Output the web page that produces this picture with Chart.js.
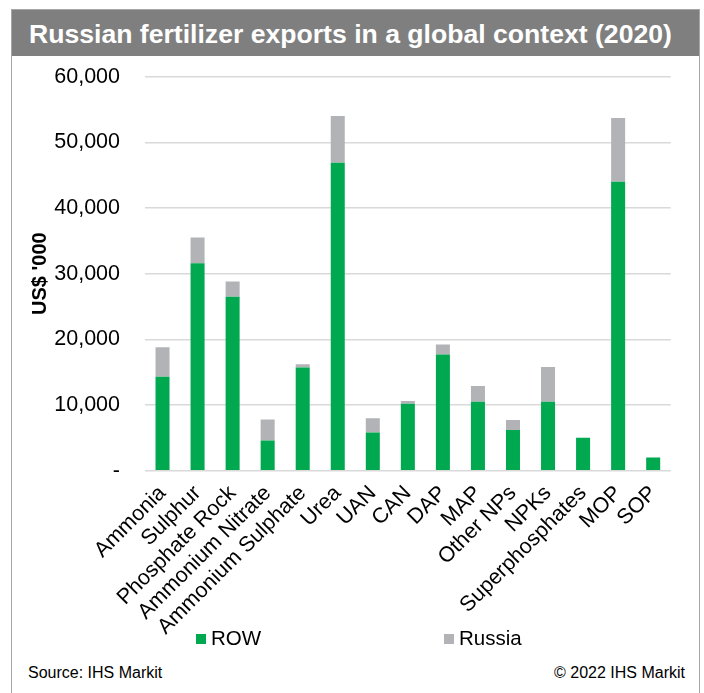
<!DOCTYPE html>
<html>
<head>
<meta charset="utf-8">
<script src="https://cdn.jsdelivr.net/npm/chart.js@4/dist/chart.umd.min.js"></script>
<style>
  body { margin: 0; background: #fff; font-family: "Liberation Sans", Arial, sans-serif; }
  #frame { position: absolute; left: 11px; top: 9px; width: 687px; height: 700px; border: 1.5px solid #a6a6a6; }
  #title { position: absolute; left: 0; top: 0; width: 687px; height: 46px; background: #7f7f7f;
           color: #fff; font-weight: bold; font-size: 26.6px; line-height: 48px; padding-left: 17px; box-sizing: border-box; white-space: nowrap; }
  #wrap { position: absolute; left: 12px; top: 55px; width: 686px; height: 600px; }
  .leg { position: absolute; top: 626px; font-size: 20.5px; line-height: 24px; color: #000; }
  .leg i { display: inline-block; width: 10px; height: 10px; margin-right: 5px; vertical-align: 1px; }
  .foot { position: absolute; top: 663px; font-size: 16px; line-height: 20px; color: #000; }
</style>
</head>
<body>
<div id="frame"><div id="title">Russian fertilizer exports in a global context (2020)</div></div>
<div id="wrap"><canvas id="chart" width="686" height="600"></canvas></div>
<div class="leg" style="left:196px"><i style="background:#00a94f"></i>ROW</div>
<div class="leg" style="left:444px"><i style="background:#b1b3b6"></i>Russia</div>
<div class="foot" style="left:28px">Source: IHS Markit</div>
<div class="foot" style="right:19px">© 2022 IHS Markit</div>
<script>
// US$ '000
const categories = ['Ammonia', 'Sulphur', 'Phosphate Rock', 'Ammonium Nitrate', 'Ammonium Sulphate',
  'Urea', 'UAN', 'CAN', 'DAP', 'MAP', 'Other NPs', 'NPKs', 'Superphosphates', 'MOP', 'SOP'];
const rowValues    = [14300, 31600, 26500, 4600, 15700, 46900, 5800, 10200, 17700, 10500, 6200, 10500, 5000, 44000, 2000];
const russiaValues = [4500, 3900, 2300, 3200, 500, 7100, 2200, 400, 1500, 2400, 1500, 5300, 0, 9700, 0];
const yTicks = [0, 10000, 20000, 30000, 40000, 50000, 60000];

const font = '"Liberation Sans", Arial, sans-serif';

let chart = new Chart(document.getElementById('chart'), {
  type: 'bar',
  data: {
    labels: categories,
    datasets: [
      { label: 'ROW', data: rowValues, backgroundColor: '#00a94f' },
      { label: 'Russia', data: russiaValues, backgroundColor: '#b1b3b6' }
    ]
  },
  options: {
    responsive: false,
    animation: false,
    barPercentage: 0.4,
    categoryPercentage: 1.0,
    layout: { padding: { top: 21.6, right: 27.3, bottom: 0, left: 0 } },
    plugins: { legend: { display: false }, tooltip: { enabled: false } },
    scales: {
      x: {
        stacked: true,
        grid: { display: false },
        border: { display: false },
        ticks: { color: '#000', font: { family: font, size: 21.5 }, minRotation: 45, maxRotation: 45, padding: 2, autoSkip: false },
        afterFit: (s) => { s.height = 184.3; }
      },
      y: {
        stacked: true,
        min: 0,
        max: 60000,
        afterBuildTicks: (s) => { s.ticks = yTicks.map(v => ({ value: v })); },
        // transparent tick marks push the labels away from the plot
        grid: { color: '#d9d9d9', lineWidth: 1.5, drawTicks: true, tickLength: 25, tickColor: 'rgba(0,0,0,0)' },
        border: { display: false },
        ticks: {
          color: '#000', padding: 0, font: { family: font, size: 21.5 },
          callback: (v) => v === 0 ? '-' : v.toLocaleString('en-US')
        },
        title: { display: true, text: "US$ '000", color: '#000', font: { family: font, size: 20, weight: 'bold' }, padding: { top: 16, bottom: 0 } },
        afterFit: (s) => { s.width = 133; }
      }
    }
  }
});
</script>
</body>
</html>
